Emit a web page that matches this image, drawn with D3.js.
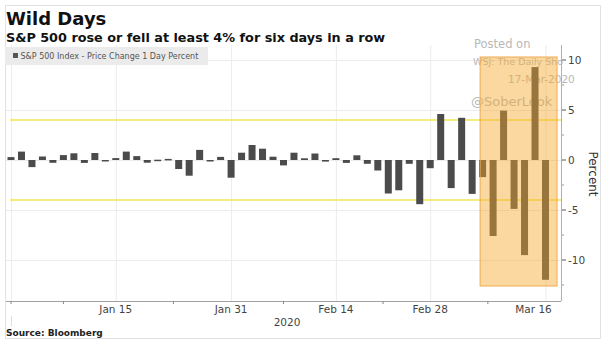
<!DOCTYPE html>
<html><head><meta charset="utf-8">
<script src="https://cdn.jsdelivr.net/npm/d3@7"></script>
<style>
html,body{margin:0;padding:0;background:#fff;}
svg{display:block;font-family:"DejaVu Sans",Verdana,sans-serif;}
</style></head>
<body>
<svg id="c" width="607" height="345"></svg>
<script>
const dates = ["2019-12-31","2020-01-02","2020-01-03","2020-01-06","2020-01-07","2020-01-08","2020-01-09","2020-01-10","2020-01-13","2020-01-14","2020-01-15","2020-01-16","2020-01-17","2020-01-21","2020-01-22","2020-01-23","2020-01-24","2020-01-27","2020-01-28","2020-01-29","2020-01-30","2020-01-31","2020-02-03","2020-02-04","2020-02-05","2020-02-06","2020-02-07","2020-02-10","2020-02-11","2020-02-12","2020-02-13","2020-02-14","2020-02-18","2020-02-19","2020-02-20","2020-02-21","2020-02-24","2020-02-25","2020-02-26","2020-02-27","2020-02-28","2020-03-02","2020-03-03","2020-03-04","2020-03-05","2020-03-06","2020-03-09","2020-03-10","2020-03-11","2020-03-12","2020-03-13","2020-03-16"];
const pctChange = [0.29,0.84,-0.71,0.35,-0.28,0.49,0.67,-0.29,0.70,-0.15,0.19,0.84,0.39,-0.27,0.03,0.11,-0.90,-1.57,1.01,-0.09,0.31,-1.77,0.73,1.50,1.13,0.33,-0.54,0.73,0.17,0.65,-0.16,0.18,-0.29,0.47,-0.38,-1.05,-3.35,-3.03,-0.38,-4.42,-0.82,4.60,-2.81,4.22,-3.39,-1.71,-7.60,4.94,-4.89,-9.51,9.29,-11.98];
const xTickDates = ["2020-01-15","2020-01-31","2020-02-14","2020-02-28","2020-03-16"];
const xTickLabels = ["Jan 15","Jan 31","Feb 14","Feb 28","Mar 16"];
const minorTickPos = [0,5,15.5,26,35.5,45.5];
const yTicks = [10,5,0,-5,-10];
const yMinor = [7.5,2.5,-2.5,-7.5,-12.5];
const thresholds = [4,-4];
const highlightStart = "2020-03-06", highlightEnd = "2020-03-16";
const highlightRange = [10.3,-12.6];

const svg = d3.select("#c");
const plot = {left:6, right:561, top:45, bottom:301};

const x = d3.scalePoint().domain(dates).range([11, 545.5]);
const xi = d3.scaleLinear().domain([0, dates.length-1]).range([11, 545.5]);
const y = d3.scaleLinear().domain([-14.1, 11.5]).range([plot.bottom, plot.top]);
const barW = 7;

// frame
svg.append("rect").attr("x",5.5).attr("y",5.5).attr("width",595).attr("height",333)
  .attr("fill","#fff").attr("stroke","#e2e2e2");

// titles
svg.append("text").attr("x",6).attr("y",25).attr("font-size",18).attr("font-weight","bold").attr("fill","#111").text("Wild Days");
svg.append("text").attr("x",6).attr("y",42).attr("font-size",12.8).attr("font-weight","bold").attr("fill","#111").text("S&P 500 rose or fell at least 4% for six days in a row");

// gridlines
const g = svg.append("g");
g.selectAll(".vg").data([dates[0], ...xTickDates]).join("line")
  .attr("x1",d=>x(d)+0.5).attr("x2",d=>x(d)+0.5).attr("y1",plot.top).attr("y2",plot.bottom)
  .attr("stroke","#ececec");
g.selectAll(".hg").data(yTicks).join("line")
  .attr("x1",plot.left).attr("x2",plot.right).attr("y1",d=>Math.round(y(d))+0.5).attr("y2",d=>Math.round(y(d))+0.5)
  .attr("stroke","#ececec");

// threshold lines
g.selectAll(".th").data(thresholds).join("line")
  .attr("x1",plot.left+4).attr("x2",plot.right).attr("y1",d=>y(d)).attr("y2",d=>y(d))
  .attr("stroke","#f0e650").attr("stroke-width",1.6);

// watermark
const wm = svg.append("g").attr("fill","#b8b8b8");
wm.append("text").attr("x",474).attr("y",48).attr("font-size",11.5).text("Posted on");
wm.append("text").attr("x",473).attr("y",64.5).attr("font-size",9.5).text("WSJ: The Daily Sho");
wm.append("text").attr("x",508).attr("y",83).attr("font-size",10.5).text("17-Mar-2020");
wm.append("text").attr("x",471).attr("y",106).attr("font-size",13).text("@SoberLook");

// bars
svg.append("g").selectAll("rect").data(dates).join("rect")
  .attr("x",d=>x(d)-barW/2).attr("width",barW)
  .attr("y",(d,i)=>Math.min(y(0),y(pctChange[i])))
  .attr("height",(d,i)=>Math.max(1.5,Math.abs(y(pctChange[i])-y(0))))
  .attr("fill","#4b4b4b");

// highlight box
const hx0 = x(highlightStart)-2.5, hx1 = x(highlightEnd)+11.5;
svg.append("rect").attr("x",hx0).attr("y",y(highlightRange[0])).attr("width",hx1-hx0)
  .attr("height",y(highlightRange[1])-y(highlightRange[0]))
  .attr("fill","rgb(246,168,45)").attr("fill-opacity",0.45)
  .attr("stroke","rgb(240,170,80)").attr("stroke-width",1);

// legend
svg.append("rect").attr("x",5).attr("y",47).attr("width",203).attr("height",18).attr("fill","#ebebeb");
svg.append("rect").attr("x",13).attr("y",53).attr("width",5).attr("height",5).attr("fill","#555");
svg.append("text").attr("x",20.5).attr("y",59).attr("font-size",8).attr("fill","#555").text("S&P 500 Index - Price Change 1 Day Percent");

// x axis
const ax = svg.append("g");
ax.append("line").attr("x1",plot.left).attr("x2",plot.right).attr("y1",plot.bottom+0.5).attr("y2",plot.bottom+0.5).attr("stroke","#a0a0a0");
ax.selectAll(".mt").data(minorTickPos).join("line")
  .attr("x1",d=>xi(d)).attr("x2",d=>xi(d)).attr("y1",plot.bottom).attr("y2",plot.bottom+3).attr("stroke","#888");
ax.selectAll(".xl").data(xTickDates).join("text")
  .attr("x",(d,i)=> i===xTickDates.length-1 ? x(d)-12 : x(d))
  .attr("y",313).attr("text-anchor","middle").attr("font-size",10.5).attr("fill","#444")
  .text((d,i)=>xTickLabels[i]);
ax.append("text").attr("x",287).attr("y",325.5).attr("text-anchor","middle").attr("font-size",10.5).attr("fill","#444").text("2020");
ax.append("line").attr("x1",11.5).attr("x2",11.5).attr("y1",316).attr("y2",326).attr("stroke","#ddd");

// y axis (right)
const ay = svg.append("g").attr("transform",`translate(${plot.right},0)`);
ay.append("line").attr("x1",0.5).attr("x2",0.5).attr("y1",plot.top).attr("y2",plot.bottom).attr("stroke","#b0b0b0");
ay.selectAll(".yt").data(yTicks).join("line")
  .attr("x1",1).attr("x2",5).attr("y1",d=>y(d)).attr("y2",d=>y(d)).attr("stroke","#555");
ay.selectAll(".ym").data(yMinor).join("line")
  .attr("x1",1).attr("x2",3).attr("y1",d=>y(d)).attr("y2",d=>y(d)).attr("stroke","#999");
ay.selectAll(".yl").data(yTicks).join("text")
  .attr("x",7).attr("y",d=>y(d)+4).attr("font-size",10.5).attr("fill","#444").text(d=>d);
svg.append("text").attr("transform","translate(589,174) rotate(90)").attr("text-anchor","middle")
  .attr("font-size",12).attr("fill","#333").text("Percent");

// source
svg.append("text").attr("x",6).attr("y",336).attr("font-size",9).attr("font-weight","bold").attr("fill","#222").text("Source: Bloomberg");
</script>
</body></html>
